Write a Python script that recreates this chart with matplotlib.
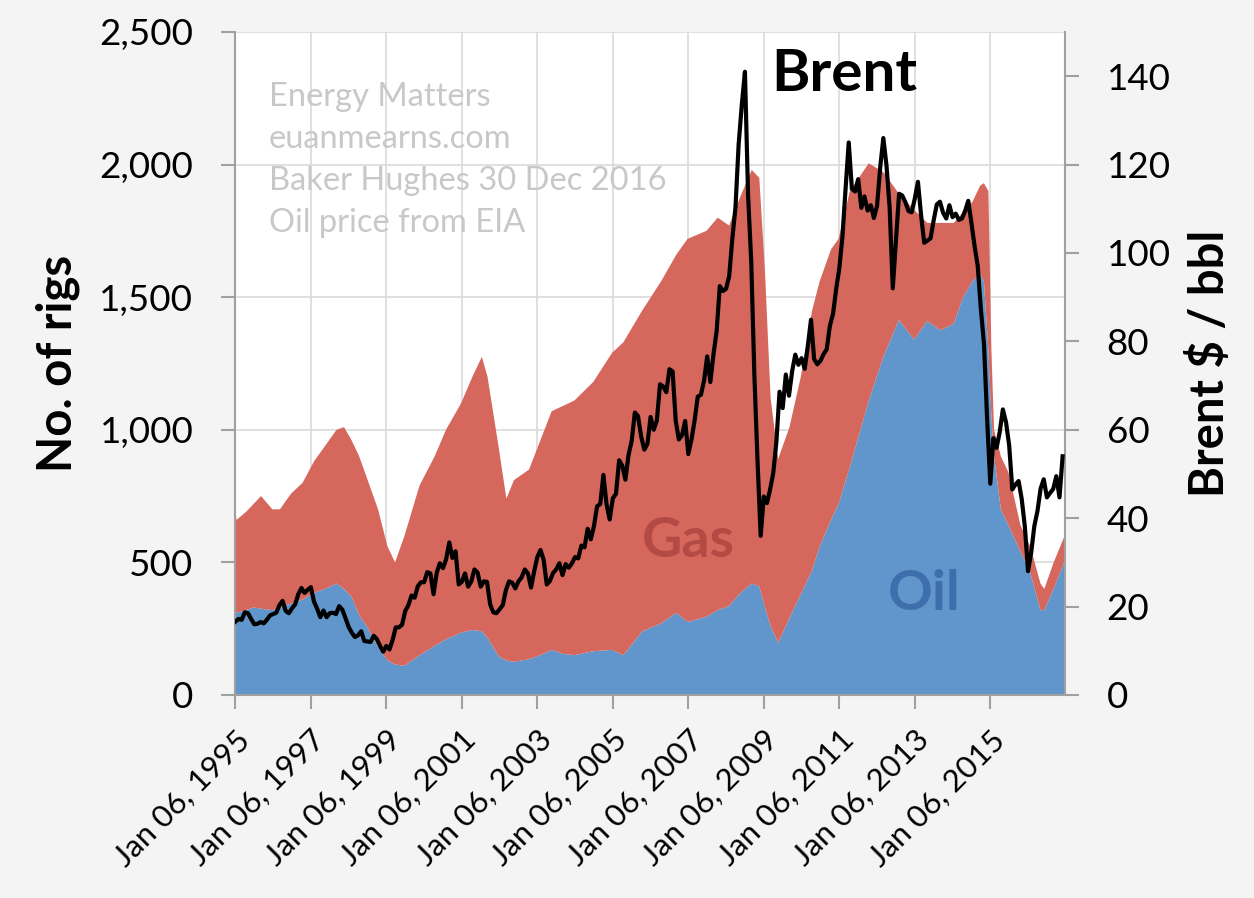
import numpy as np
import matplotlib.pyplot as plt
from matplotlib.ticker import FuncFormatter

plt.rcParams['font.family'] = ['Lato', 'DejaVu Sans']

# rig counts (decimal year, oil rigs, gas rigs)
rig_dates = [1995.00, 1995.05, 1995.30, 1995.50, 1995.70, 1996.00, 1996.20, 1996.50, 1996.80,
             1997.10, 1997.40, 1997.70, 1997.90, 1998.10, 1998.30, 1998.50, 1998.80, 1999.05,
             1999.25, 1999.50, 1999.90, 2000.30, 2000.60, 2001.00, 2001.30, 2001.55, 2001.70,
             2002.00, 2002.20, 2002.40, 2002.80, 2003.10, 2003.40, 2003.70, 2004.00, 2004.50,
             2005.00, 2005.30, 2005.80, 2006.30, 2006.70, 2007.00, 2007.50, 2007.80, 2008.10,
             2008.40, 2008.70, 2008.90, 2009.05, 2009.20, 2009.40, 2009.70, 2010.00, 2010.30,
             2010.50, 2010.80, 2011.00, 2011.30, 2011.80, 2012.20, 2012.60, 2013.00, 2013.35,
             2013.70, 2014.05, 2014.30, 2014.55, 2014.75, 2014.85, 2014.97, 2015.05, 2015.12,
             2015.30, 2015.50, 2015.82, 2016.08, 2016.35, 2016.45, 2016.70, 2016.99]
oil_rigs = [315, 310, 320, 330, 325, 320, 330, 345, 360,
            385, 400, 420, 400, 370, 300, 260, 180, 130,
            115, 110, 150, 185, 210, 235, 245, 240, 215,
            145, 130, 125, 135, 150, 170, 155, 150, 165,
            170, 150, 240, 270, 310, 275, 295, 320, 335,
            385, 420, 410, 330, 260, 196, 290, 380, 470,
            560, 660, 720, 860, 1110, 1280, 1414, 1340, 1410,
            1375, 1400, 1500, 1560, 1590, 1560, 1300, 1050, 900,
            700, 640, 540, 460, 320, 320, 400, 505]
gas_rigs = [405, 350, 370, 390, 425, 380, 370, 415, 440,
            495, 540, 580, 610, 590, 600, 560, 520, 430,
            385, 490, 640, 715, 790, 865, 955, 1035, 985,
            785, 610, 685, 715, 810, 900, 935, 960, 1015,
            1120, 1180, 1210, 1290, 1350, 1445, 1455, 1480, 1435,
            1495, 1560, 1540, 1270, 860, 694, 720, 820, 980,
            1000, 1020, 1000, 1040, 895, 690, 476, 490, 370,
            405, 380, 320, 300, 330, 370, 600, 250, 100,
            200, 200, 100, 100, 100, 80, 100, 95]

# Brent spot, monthly, $/bbl, Jan 1995 .. Dec 2016
brent = [16.6, 17.2, 17.0, 18.7, 18.5, 17.2, 16.0, 16.1, 16.5, 16.2, 17.0, 18.0,
         18.3, 18.6, 20.3, 21.3, 19.0, 18.5, 19.6, 20.5, 22.8, 24.2, 23.1, 23.8,
         24.4, 21.1, 19.5, 17.6, 19.1, 17.6, 18.5, 18.6, 18.3, 20.1, 19.3, 17.4,
         15.4, 14.1, 13.1, 13.5, 14.4, 12.2, 12.1, 12.0, 13.4, 12.6, 11.1, 9.8,
         11.1, 10.3, 12.5, 15.3, 15.3, 15.9, 19.0, 20.3, 22.5, 22.0, 24.6, 25.5,
         25.5, 27.8, 27.5, 22.8, 27.6, 29.8, 28.7, 30.7, 34.5, 31.0, 32.5, 25.0,
         25.6, 27.5, 24.5, 25.7, 28.4, 27.7, 24.5, 25.7, 25.6, 20.5, 18.7, 18.5,
         19.4, 20.3, 23.7, 25.7, 25.4, 24.1, 25.7, 26.6, 28.4, 27.5, 24.3, 28.0,
         31.2, 32.8, 30.6, 25.0, 25.8, 27.6, 28.4, 29.8, 27.1, 29.6, 28.8, 29.8,
         31.2, 30.9, 33.8, 33.4, 37.6, 35.2, 38.2, 42.7, 43.2, 49.8, 43.1, 39.7,
         44.5, 45.5, 53.1, 51.9, 48.7, 54.3, 57.5, 63.9, 63.1, 58.5, 55.5, 56.8,
         62.9, 60.0, 62.1, 70.3, 69.8, 68.5, 73.7, 73.2, 62.0, 57.8, 58.8, 62.0,
         54.5, 57.8, 62.1, 67.5, 67.9, 71.1, 76.6, 70.8, 77.1, 82.3, 92.5, 91.4,
         91.9, 94.8, 103.3, 110.4, 124.6, 133.5, 141.0, 113.0, 98.1, 72.3, 53.0, 36.0,
         44.9, 43.4, 46.5, 50.2, 57.3, 68.6, 64.9, 72.5, 67.7, 73.2, 77.0, 74.7,
         76.2, 73.8, 79.0, 84.9, 76.0, 74.8, 75.6, 77.1, 78.2, 83.5, 86.2, 91.8,
         96.5, 103.7, 114.6, 125.0, 114.5, 113.9, 116.7, 110.2, 112.8, 109.6, 110.8, 107.9,
         110.7, 119.3, 126.0, 119.8, 110.3, 92.0, 102.6, 113.4, 113.0, 111.5, 109.5, 109.2,
         112.3, 116.1, 108.5, 102.3, 102.8, 103.3, 107.4, 111.0, 111.6, 109.1, 107.8, 110.8,
         108.1, 108.9, 107.5, 107.8, 109.5, 111.8, 106.8, 101.6, 97.1, 87.4, 79.4, 62.3,
         47.8, 58.1, 55.9, 59.5, 64.6, 61.7, 56.5, 46.5, 47.6, 48.4, 44.3, 38.0,
         28.0, 32.2, 38.2, 41.6, 46.7, 48.8, 44.7, 45.7, 46.6, 49.5, 44.7, 54.0]
brent_dates = [1995.02 + i / 12 for i in range(len(brent))]

tick_years = [1995, 1997, 1999, 2001, 2003, 2005, 2007, 2009, 2011, 2013, 2015]
tick_labels = ['Jan 06, %d' % y for y in tick_years]

oil_col = '#6096cb'
gas_col = '#d6675d'

fig = plt.figure(figsize=(12.54, 8.98), dpi=100)
fig.patch.set_facecolor('#f4f4f4')
ax = fig.add_axes([0.1874, 0.2261, 0.6619, 0.7383])
ax.set_facecolor('white')

ax.stackplot(rig_dates, oil_rigs, gas_rigs, colors=[oil_col, gas_col], lw=0, zorder=2)
ax.set_xlim(1995.01, 2017.0)
ax.set_ylim(0, 2500)
ax.set_yticks(range(0, 2501, 500))
ax.yaxis.set_major_formatter(FuncFormatter(lambda v, p: format(int(v), ',')))
ax.set_xticks([y + 0.014 for y in tick_years])
ax.set_xticklabels(tick_labels, rotation=45, ha='right', rotation_mode='anchor', fontsize=22.5)
ax.grid(True, color='#dadada', lw=1.2, zorder=0)
ax.set_axisbelow(True)
ax.tick_params(axis='y', labelsize=26.5, length=10, color='#a0a0a0', pad=20, width=1.5)
ax.tick_params(axis='x', length=10, color='#a0a0a0', pad=12, width=1.5)
for s in ['left', 'right', 'bottom']:
    ax.spines[s].set_color('#a0a0a0')
    ax.spines[s].set_linewidth(1.5)
ax.spines['top'].set_visible(False)
ax.set_ylabel('No. of rigs', fontsize=34, fontweight='bold', labelpad=14)

ax2 = ax.twinx()
ax2.plot(brent_dates, brent, color='black', lw=3.0, zorder=5)
ax2.set_ylim(0, 150)
ax2.set_yticks(range(0, 141, 20))
ax2.tick_params(axis='y', labelsize=26.5, length=10, color='#a0a0a0', pad=20, width=1.5)
for s in ['left', 'right', 'bottom', 'top']:
    ax2.spines[s].set_visible(False)
ax2.set_ylabel('Brent $ / bbl', fontsize=34, fontweight='bold', labelpad=12)

ax.text(1995.9, 2310, 'Energy Matters\neuanmearns.com\nBaker Hughes 30 Dec 2016\nOil price from EIA',
        fontsize=23.5, color='#c8c8c8', va='top', ha='left', linespacing=1.5, zorder=3)
ax.text(2011.16, 2340, 'Brent', fontsize=42, fontweight='bold', color='black', ha='center', va='center', zorder=6)
ax.text(2007.03, 580, 'Gas', fontsize=40, fontweight='bold', color='#b44a44', ha='center', va='center', zorder=4)
ax.text(2013.28, 380, 'Oil', fontsize=40, fontweight='bold', color='#3e6fac', ha='center', va='center', zorder=4)

fig.savefig('out.png', dpi=100, facecolor=fig.get_facecolor())
